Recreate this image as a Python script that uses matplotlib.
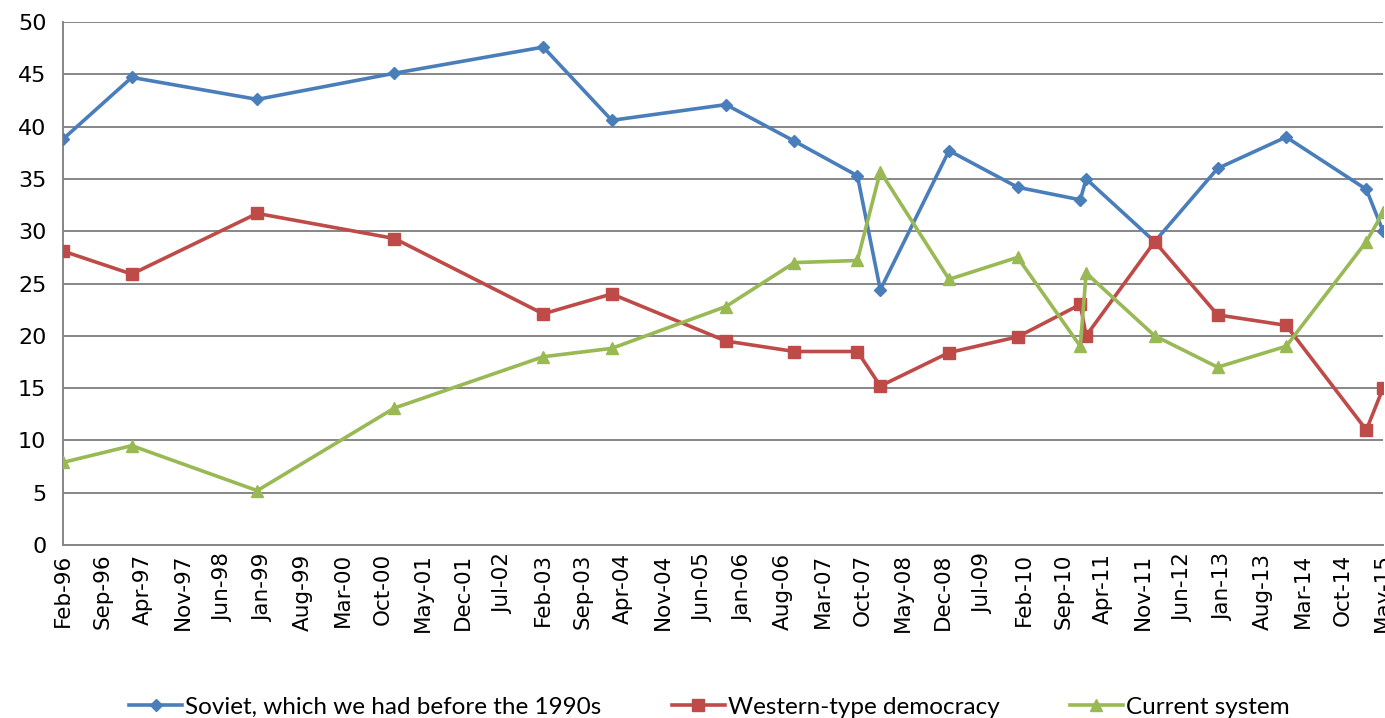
import matplotlib
matplotlib.use("Agg")
import matplotlib.pyplot as plt
import matplotlib.dates as mdates
import datetime as dt

plt.rcParams['font.family'] = ['DejaVu Sans']

dates = ["1996-02", "1997-02", "1998-12", "2000-12", "2003-02", "2004-02",
         "2005-10", "2006-10", "2007-09", "2008-01", "2009-01", "2010-01",
         "2010-12", "2011-01", "2012-01", "2012-12", "2013-12", "2015-02",
         "2015-05"]
soviet = [38.8, 44.7, 42.6, 45.1, 47.6, 40.6, 42.1, 38.6, 35.3, 24.4, 37.7,
          34.2, 33.0, 35.0, 29.0, 36.0, 39.0, 34.0, 30.0]
western = [28.1, 25.9, 31.7, 29.3, 22.1, 24.0, 19.5, 18.5, 18.5, 15.2, 18.4,
           19.9, 23.0, 20.0, 29.0, 22.0, 21.0, 11.0, 15.0]
current = [7.9, 9.5, 5.2, 13.1, 18.0, 18.8, 22.8, 27.0, 27.2, 35.7, 25.4,
           27.5, 19.0, 26.0, 20.0, 17.0, 19.0, 29.0, 31.8]
series_names = ["Soviet, which we had before the 1990s",
                "Western-type democracy", "Current system"]

x = [dt.datetime.strptime(d, "%Y-%m") for d in dates]

fig = plt.figure(figsize=(13.85, 7.18), dpi=100)
ax = fig.add_axes([0.0455, 0.2409, 0.9531, 0.7285])

ax.plot(x, soviet, color="#4A7EBB", lw=2.6, marker="D", ms=6.5, label=series_names[0], zorder=3)
ax.plot(x, western, color="#BE4B48", lw=2.6, marker="s", ms=8, label=series_names[1], zorder=3)
ax.plot(x, current, color="#98B954", lw=2.6, marker="^", ms=8.5, label=series_names[2], zorder=3)

ax.set_ylim(0, 50)
ax.set_yticks(range(0, 51, 5))
ax.set_xlim(dt.datetime(1996, 2, 1), dt.datetime(2015, 5, 1))

ticks = []
y, m = 1996, 2
while (y, m) <= (2015, 5):
    ticks.append(dt.datetime(y, m, 1))
    m += 7
    while m > 12:
        m -= 12
        y += 1
ax.set_xticks(ticks)
ax.xaxis.set_major_formatter(mdates.DateFormatter("%b-%y"))
for lbl in ax.get_xticklabels():
    lbl.set_rotation(90)

ax.grid(axis="y", color="#868686", lw=1.4)
ax.set_axisbelow(True)
for s in ["top", "right"]:
    ax.spines[s].set_visible(False)
for s in ["left", "bottom"]:
    ax.spines[s].set_color("#868686")
    ax.spines[s].set_linewidth(1.4)
ax.tick_params(axis="y", length=0, labelsize=16, pad=12)
ax.tick_params(axis="x", length=0, labelsize=15.5, pad=6)

leg = fig.legend(loc="lower center", bbox_to_anchor=(0.512, -0.03), ncol=3,
                 frameon=False, handlelength=2.2, columnspacing=2.9,
                 handletextpad=0.1, prop={"family": ["Lato", "DejaVu Sans"], "size": 17.5})

fig.savefig("out.png", dpi=100)
